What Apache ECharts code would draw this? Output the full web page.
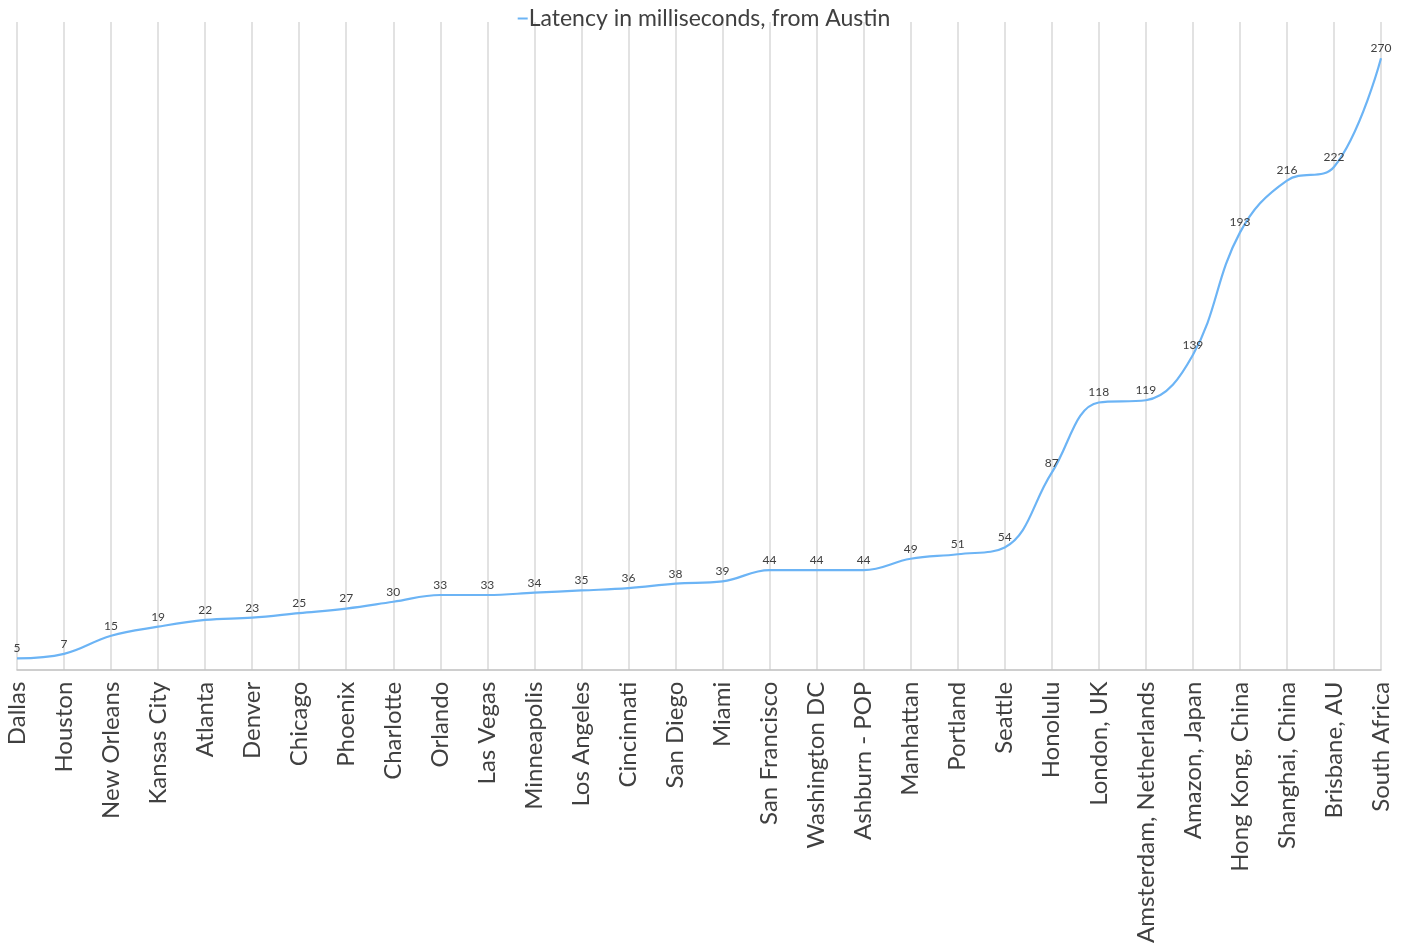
<!DOCTYPE html>
<html>
<head>
<meta charset="utf-8">
<script src="https://cdn.jsdelivr.net/npm/echarts@6/dist/echarts.min.js"></script>
<style>html,body{margin:0;padding:0;background:#fff;}#c{width:1408px;height:946px;}</style>
</head>
<body>
<div id="c"></div>
<script>
const categories = ["Dallas","Houston","New Orleans","Kansas City","Atlanta","Denver","Chicago","Phoenix","Charlotte","Orlando","Las Vegas","Minneapolis","Los Angeles","Cincinnati","San Diego","Miami","San Francisco","Washington DC","Ashburn - POP","Manhattan","Portland","Seattle","Honolulu","London, UK","Amsterdam, Netherlands","Amazon, Japan","Hong Kong, China","Shanghai, China","Brisbane, AU","South Africa"];
const latency = [5,7,15,19,22,23,25,27,30,33,33,34,35,36,38,39,44,44,44,49,51,54,87,118,119,139,193,216,222,270];
const seriesName = "Latency in milliseconds, from Austin";

const font = "Lato, 'Open Sans', sans-serif";
const chart = echarts.init(document.getElementById('c'));
chart.setOption({
  animation: false,
  legend: {
    top: 2, left: 'center',
    itemWidth: 10, itemHeight: 2, itemGap: 0,
    icon: 'rect',
    textStyle: { fontFamily: font, fontSize: 23, color: '#404040', padding: [0,0,0,-4] },
    data: [seriesName]
  },
  grid: { left: 17, right: 27, top: 22, bottom: 276, containLabel: false },
  xAxis: {
    type: 'category', data: categories, boundaryGap: false,
    axisLine: { lineStyle: { color: '#bfbfbf', width: 1.5 } },
    axisTick: { show: false },
    splitLine: { show: true, lineStyle: { color: '#d9d9d9', width: 1.5 } },
    axisLabel: { rotate: 90, interval: 0, fontFamily: font, fontSize: 24, color: '#404040', margin: 12 }
  },
  yAxis: {
    type: 'value', min: 0, max: 286, show: false,
    splitLine: { show: false }
  },
  series: [{
    name: seriesName, type: 'line', data: latency, smooth: 0.4,
    symbol: 'circle', symbolSize: 0, showSymbol: true,
    lineStyle: { color: '#6cb4f5', width: 2.2 },
    itemStyle: { color: '#6cb4f5' },
    label: { show: true, position: 'top', distance: 4, fontFamily: font, fontSize: 12, color: '#404040' }
  }]
});
</script>
</body>
</html>
